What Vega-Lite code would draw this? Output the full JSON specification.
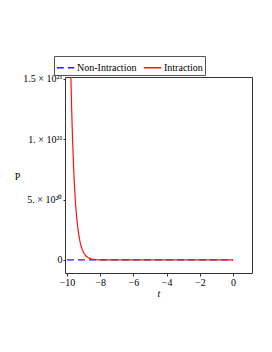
{
  "$schema": "https://vega.github.io/schema/vega-lite/v6.json",
  "width": 187,
  "height": 196,
  "autosize": {"type": "none"},
  "padding": {"left": 65, "top": 77, "right": 20, "bottom": 79},
  "background": "white",
  "config": {
    "view": {"stroke": "#333333", "strokeWidth": 1},
    "font": "Liberation Serif",
    "axis": {"grid": false, "domain": false, "labelFont": "Liberation Serif", "titleFont": "Liberation Serif", "labelColor": "#000", "titleColor": "#000", "tickColor": "#333", "labelFontSize": 10, "titleFontSize": 10, "titleFontWeight": "normal"},
    "legend": {"labelFont": "Liberation Serif"}
  },
  "data": {
    "values": [
      {"t": -10, "P": 0, "s": "Non-Intraction"},
      {"t": -8, "P": 0, "s": "Non-Intraction"},
      {"t": -6, "P": 0, "s": "Non-Intraction"},
      {"t": -4, "P": 0, "s": "Non-Intraction"},
      {"t": -2, "P": 0, "s": "Non-Intraction"},
      {"t": 0, "P": 0, "s": "Non-Intraction"},
      {"t": -9.78, "P": 1.6e21, "s": "Intraction"},
      {"t": -9.7, "P": 1.16e21, "s": "Intraction"},
      {"t": -9.6, "P": 7.6e20, "s": "Intraction"},
      {"t": -9.5, "P": 5.0e20, "s": "Intraction"},
      {"t": -9.4, "P": 3.3e20, "s": "Intraction"},
      {"t": -9.3, "P": 2.2e20, "s": "Intraction"},
      {"t": -9.2, "P": 1.4e20, "s": "Intraction"},
      {"t": -9.1, "P": 9.4e19, "s": "Intraction"},
      {"t": -9.0, "P": 6.2e19, "s": "Intraction"},
      {"t": -8.9, "P": 4.0e19, "s": "Intraction"},
      {"t": -8.8, "P": 2.7e19, "s": "Intraction"},
      {"t": -8.6, "P": 1.2e19, "s": "Intraction"},
      {"t": -8.4, "P": 5e18, "s": "Intraction"},
      {"t": -8.0, "P": 1e18, "s": "Intraction"},
      {"t": -7.0, "P": 0, "s": "Intraction"},
      {"t": -5.0, "P": 0, "s": "Intraction"},
      {"t": -3.0, "P": 0, "s": "Intraction"},
      {"t": -1.0, "P": 0, "s": "Intraction"},
      {"t": 0, "P": 0, "s": "Intraction"}
    ]
  },
  "encoding": {
    "x": {"field": "t", "type": "quantitative", "scale": {"domain": [-10.12, 1.14], "nice": false, "zero": false},
      "axis": {"values": [-10, -8, -6, -4, -2, 0], "title": "t", "titleFontStyle": "italic", "tickSize": 3, "labelPadding": 1, "titlePadding": 1,
        "labelExpr": "datum.value < 0 ? '\u2212' + abs(datum.value) : datum.label"}},
    "y": {"field": "P", "type": "quantitative", "scale": {"domain": [-1.08e20, 1.515e21], "nice": false, "zero": false},
      "axis": {"values": [0, 5e20, 1e21, 1.5e21], "title": "P", "titleAngle": 0, "titleX": -48, "titleY": 99, "titleAlign": "center", "titleBaseline": "middle", "tickSize": 2, "labelPadding": 1,
        "labelExpr": "datum.value == 0 ? '0' : datum.value == 5e20 ? '5. \u00d7 10\u00b2\u2070' : datum.value == 1e21 ? '1. \u00d7 10\u00b2\u00b9' : '1.5 \u00d7 10\u00b2\u00b9'"}},
    "color": {"field": "s", "type": "nominal", "scale": {"domain": ["Non-Intraction", "Intraction"], "range": ["#1f1fff", "#ff1010"]},
      "legend": {"orient": "none", "legendX": -11, "legendY": -21, "direction": "horizontal", "title": null, "symbolType": "stroke", "symbolSize": 300, "symbolStrokeWidth": 1.5, "labelFont": "Liberation Serif", "labelFontSize": 10, "labelColor": "#000", "strokeColor": "#555", "padding": 2, "columnPadding": 3, "symbolOffset": 0, "labelOffset": 2}},
    "strokeDash": {"field": "s", "type": "nominal", "scale": {"domain": ["Non-Intraction", "Intraction"], "range": [[7, 4], [1, 0]]}}
  },
  "layer": [
    {"transform": [{"filter": "datum.s == 'Non-Intraction'"}], "mark": {"type": "line", "clip": true, "strokeWidth": 1.2}},
    {"transform": [{"filter": "datum.s == 'Intraction'"}], "mark": {"type": "line", "clip": true, "strokeWidth": 1.2, "interpolate": "monotone"}}
  ]
}
